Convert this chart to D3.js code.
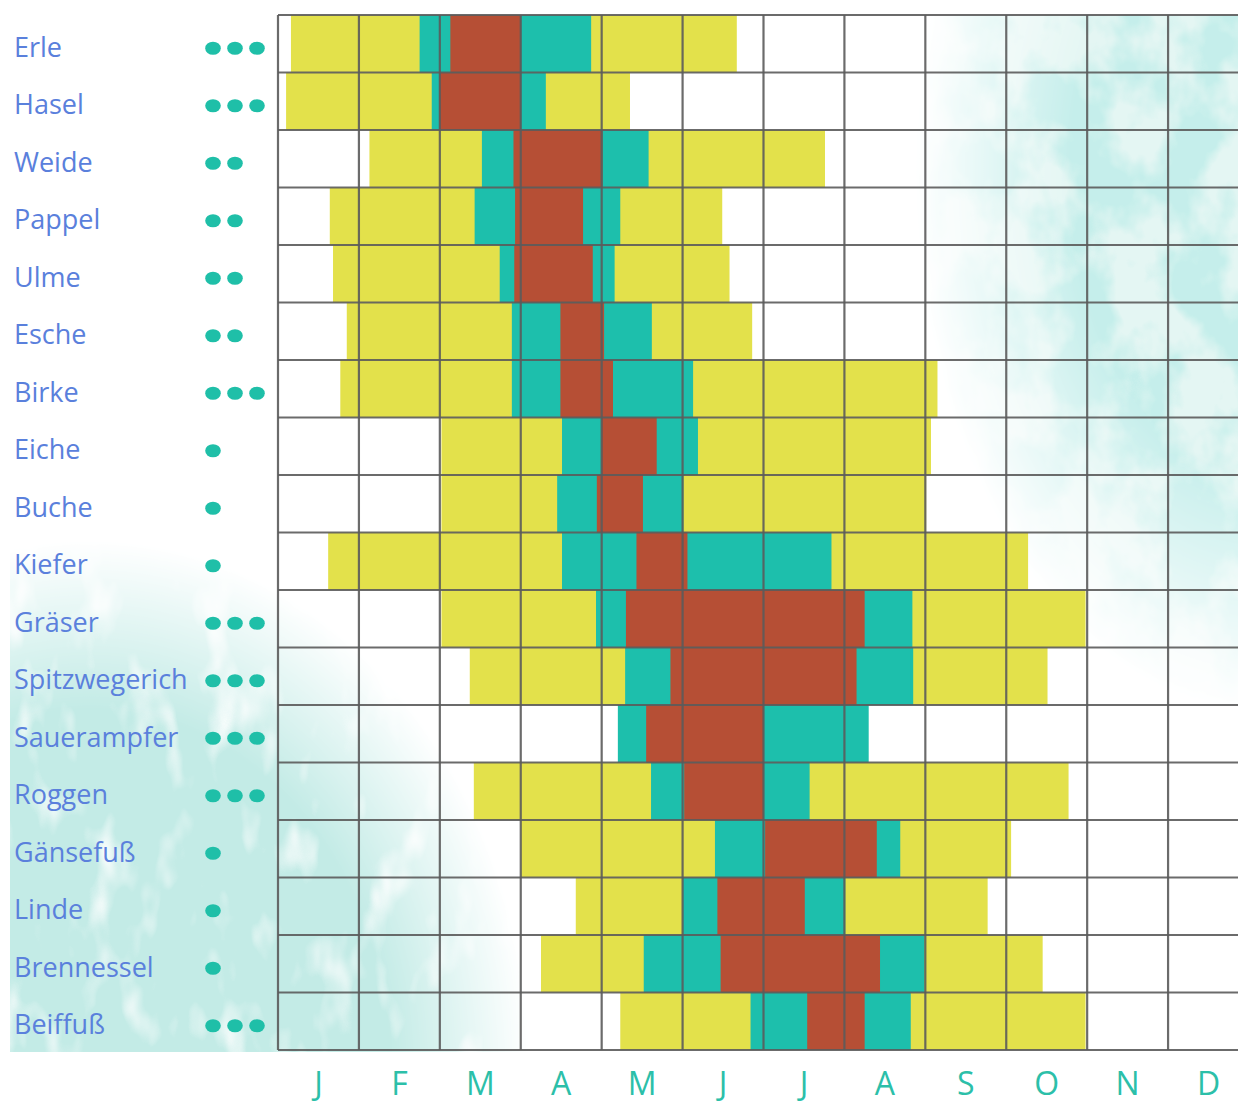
<!DOCTYPE html>
<html>
<head>
<meta charset="utf-8">
<script src="https://cdn.jsdelivr.net/npm/d3@7/dist/d3.min.js"></script>
<style>
  body { margin: 0; background: #fff; }
  .plant { font-family: "Open Sans", sans-serif; font-size: 27px; fill: #5a80dc; }
  .months text { font-family: "Open Sans", sans-serif; font-size: 32px; fill: #2cbfa9; }
</style>
</head>
<body>
<svg id="chart" width="1238" height="1106"></svg>
<script>

// planten (rijen) en het aantal stippen voor de allergie-sterkte
const plants = ["Erle", "Hasel", "Weide", "Pappel", "Ulme", "Esche", "Birke", "Eiche", "Buche",
  "Kiefer", "Gräser", "Spitzwegerich", "Sauerampfer", "Roggen", "Gänsefuß", "Linde", "Brennessel", "Beiffuß"];
const severity = [3, 3, 2, 2, 2, 2, 3, 1, 1, 1, 3, 3, 3, 3, 1, 1, 1, 3];

// bloeiperiodes in maanden (0 = begin januari, 12 = eind december)
const lowSeason = [[0.16, 5.67], [0.10, 4.35], [1.13, 6.76], [0.64, 5.49], [0.68, 5.58], [0.85, 5.86],
  [0.77, 8.15], [2.02, 8.07], [2.02, 8.01], [0.62, 9.27], [2.02, 9.98], [2.37, 9.51], null,
  [2.42, 9.77], [3.00, 9.06], [3.68, 8.77], [3.25, 9.45], [4.23, 9.98]];
const midSeason = [[1.75, 3.87], [1.90, 3.31], [2.52, 4.58], [2.43, 4.23], [2.74, 4.16], [2.89, 4.62],
  [2.89, 5.13], [3.51, 5.19], [3.45, 5.01], [3.51, 6.84], [3.93, 7.84], [4.29, 7.85], [4.20, 7.30],
  [4.61, 6.57], [5.40, 7.69], [5.00, 7.01], [4.52, 7.99], [5.84, 7.82]];
const highSeason = [[2.13, 3.00], [1.99, 3.00], [2.91, 4.01], [2.93, 3.77], [2.92, 3.89], [3.49, 4.03],
  [3.49, 4.14], [4.00, 4.68], [3.94, 4.51], [4.43, 5.06], [4.30, 7.25], [4.85, 7.15], [4.55, 6.00],
  [5.02, 6.00], [6.02, 7.40], [5.43, 6.51], [5.47, 7.44], [6.54, 7.25]];

const monthLabels = ["J", "F", "M", "A", "M", "J", "J", "A", "S", "O", "N", "D"];

// afmetingen van het raster
const grid = {left: 278, right: 1249, top: 15, bottom: 1050};

var svg = d3.select("#chart");

// schalen
var xScale = d3.scaleLinear().domain([0, 12]).range([grid.left, grid.right]);
var yScale = d3.scaleBand().domain(plants).range([grid.top, grid.bottom]).padding(0);
var monthScale = d3.scaleBand().domain(d3.range(12)).range([grid.left, grid.right]);
var dotX = d3.scalePoint().domain([0, 1, 2]).range([213, 257]);

// defs voor de aquarel-achtergrond
var defs = svg.append("defs");

function radial(id, cx, cy, rx, ry, stops) {
  var g = defs.append("radialGradient")
      .attr("id", id)
      .attr("gradientUnits", "userSpaceOnUse")
      .attr("cx", 0).attr("cy", 0).attr("r", 1)
      .attr("gradientTransform", "translate(" + cx + "," + cy + ") scale(" + rx + "," + ry + ")");
  stops.forEach(function(s) {
    g.append("stop").attr("offset", s[0]).attr("stop-color", s[1]);
  });
}
radial("blGrad", 90, 1070, 440, 530, [[0, "#fff"], [0.68, "#fff"], [1, "#000"]]);
radial("trGrad", 1260, 170, 345, 540, [[0, "#fff"], [0.55, "#fff"], [1, "#000"]]);

defs.append("mask").attr("id", "blMask")
  .append("rect").attr("x", 0).attr("y", 0).attr("width", 1238).attr("height", 1106)
  .attr("fill", "url(#blGrad)");
defs.append("mask").attr("id", "trMask")
  .append("rect").attr("x", 0).attr("y", 0).attr("width", 1238).attr("height", 1106)
  .attr("fill", "url(#trGrad)");

// witte strepen in de onderste vlek
var streaks = defs.append("filter").attr("id", "streaks")
    .attr("x", 0).attr("y", 0).attr("width", "100%").attr("height", "100%");
streaks.append("feTurbulence").attr("type", "fractalNoise")
    .attr("baseFrequency", "0.025 0.012").attr("numOctaves", 3).attr("seed", 7);
streaks.append("feColorMatrix").attr("type", "matrix")
    .attr("values", "0 0 0 0 1  0 0 0 0 1  0 0 0 0 1  3.2 0 0 0 -1.75");
streaks.append("feComposite").attr("in2", "SourceGraphic").attr("operator", "in");

// teal vlekken rechtsboven
var blobs = defs.append("filter").attr("id", "blobs")
    .attr("x", 0).attr("y", 0).attr("width", "100%").attr("height", "100%");
blobs.append("feTurbulence").attr("type", "fractalNoise")
    .attr("baseFrequency", "0.018 0.014").attr("numOctaves", 4).attr("seed", 3);
blobs.append("feColorMatrix").attr("type", "matrix")
    .attr("values", "0 0 0 0 0.56  0 0 0 0 0.86  0 0 0 0 0.83  4.2 0 0 0 -1.55");
blobs.append("feComposite").attr("in2", "SourceGraphic").attr("operator", "in");

// witte achtergrond van het raster
svg.append("rect")
    .attr("x", grid.left).attr("y", grid.top)
    .attr("width", grid.right - grid.left).attr("height", grid.bottom - grid.top)
    .attr("fill", "#fff");

// aquarel linksonder
var bl = svg.append("g").attr("mask", "url(#blMask)");
bl.append("rect").attr("x", 10).attr("y", 520).attr("width", 560).attr("height", 532).attr("fill", "#c3ebe6");
bl.append("rect").attr("x", 10).attr("y", 520).attr("width", 560).attr("height", 532)
    .attr("fill", "#fff").attr("filter", "url(#streaks)");

// aquarel rechtsboven
var tr = svg.append("g").attr("mask", "url(#trMask)");
tr.append("rect").attr("x", 900).attr("y", grid.top).attr("width", 340).attr("height", 760)
    .attr("fill", "#e4f6f3");
tr.append("rect").attr("x", 900).attr("y", grid.top).attr("width", 340).attr("height", 760)
    .attr("fill", "#fff").attr("filter", "url(#blobs)");

// balken: geel (weinig), teal (matig), rood (veel)
var levels = [
  {name: "low", data: lowSeason, color: "#e3e14b"},
  {name: "mid", data: midSeason, color: "#1dbfac"},
  {name: "high", data: highSeason, color: "#b64f35"}
];

levels.forEach(function(level) {
  var rows = level.data
      .map(function(d, i) { return {plant: plants[i], span: d}; })
      .filter(function(d) { return d.span; });

  svg.append("g")
      .attr("class", "bars-" + level.name)
    .selectAll("rect")
      .data(rows)
      .enter()
      .append("rect")
      .attr("x", function(d) { return xScale(d.span[0]); })
      .attr("y", function(d) { return yScale(d.plant); })
      .attr("width", function(d) { return xScale(d.span[1]) - xScale(d.span[0]); })
      .attr("height", yScale.bandwidth())
      .attr("fill", level.color);
});

// rasterlijnen
var lines = svg.append("g")
    .attr("class", "grid")
    .attr("stroke", "#5b5b5b")
    .attr("stroke-width", 2.2)
    .attr("stroke-opacity", 0.9);

lines.selectAll("line.v")
    .data(d3.range(13))
    .enter()
    .append("line")
    .attr("class", "v")
    .attr("x1", function(d) { return xScale(d); })
    .attr("x2", function(d) { return xScale(d); })
    .attr("y1", grid.top)
    .attr("y2", grid.bottom);

lines.selectAll("line.h")
    .data(plants.concat(["end"]))
    .enter()
    .append("line")
    .attr("class", "h")
    .attr("x1", grid.left)
    .attr("x2", grid.right)
    .attr("y1", function(d) { return d === "end" ? grid.bottom : yScale(d); })
    .attr("y2", function(d) { return d === "end" ? grid.bottom : yScale(d); });

// plantnamen
svg.append("g")
    .attr("class", "labels")
  .selectAll("text")
    .data(plants)
    .enter()
    .append("text")
    .attr("class", "plant")
    .attr("x", 14)
    .attr("y", function(d) { return yScale(d) + yScale.bandwidth() / 2; })
    .attr("dy", "0.48em")
    .text(function(d) { return d; });

// stippen voor de sterkte
var dotGroups = svg.append("g")
    .attr("class", "dots")
  .selectAll("g")
    .data(plants)
    .enter()
    .append("g")
    .attr("transform", function(d) {
      return "translate(0," + (yScale(d) + yScale.bandwidth() / 2 + 4.5) + ")";
    });

dotGroups.selectAll("ellipse")
    .data(function(d, i) { return d3.range(severity[i]); })
    .enter()
    .append("ellipse")
    .attr("cx", function(d) { return dotX(d); })
    .attr("cy", 0)
    .attr("rx", 7.8)
    .attr("ry", 6.6)
    .attr("fill", "#1fbfa8");

// maand-as
svg.append("g")
    .attr("class", "months")
    .attr("transform", "translate(0," + grid.bottom + ")")
    .call(d3.axisBottom(monthScale)
      .tickSize(0)
      .tickPadding(22)
      .tickFormat(function(d) { return monthLabels[d]; }))
    .call(function(g) { g.select(".domain").remove(); });

</script>
</body>
</html>
